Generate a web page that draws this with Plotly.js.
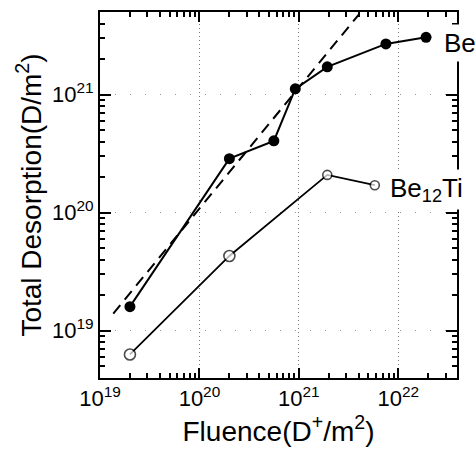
<!DOCTYPE html>
<html>
<head>
<meta charset="utf-8">
<script src="https://cdn.plot.ly/plotly-3.0.1.min.js"></script>
<style>html,body{margin:0;padding:0;background:#fff;}#chart{width:476px;height:451px;}</style>
</head>
<body>
<div id="chart"></div>
<script>
// Be (filled circles)
const fluenceBe = [2e19, 2e20, 5.6e20, 9.2e20, 1.93e21, 7.5e21, 1.9e22];
const desorptionBe = [1.6e19, 2.87e20, 4.06e20, 1.12e21, 1.72e21, 2.69e21, 3.06e21];
// Be12Ti (open circles)
const fluenceBe12Ti = [2e19, 2e20, 1.93e21, 5.8e21];
const desorptionBe12Ti = [6.3e18, 4.3e19, 2.09e20, 1.71e20];
// dashed fit line endpoints
const fitFluence = [1.36e19, 4.0e21];
const fitDesorption = [1.4e19, 4.77e21];
// tick labels
const xTickVals = [1e19, 1e20, 1e21, 1e22];
const xTickText = ["10<sup>19</sup>", "10<sup>20</sup>", "10<sup>21</sup>", "10<sup>22</sup>"];
const yTickVals = [1e19, 1e20, 1e21];
const yTickText = ["10<sup>19</sup>", "10<sup>20</sup>", "10<sup>21</sup>"];
// labels
const seriesLabels = ["Be", "Be<sub>12</sub>Ti"];
const xTitle = "Fluence(D<sup>+</sup>/m<sup>2</sup>)";
const yTitle = "Total Desorption(D/m<sup>2</sup>)";

const font = "Liberation Sans, Arial, sans-serif";
const xRange = [19, 22.59];
const yRange = [18.6, 21.7];

function minorVals(e0, e1) {
  const v = [];
  for (let e = e0; e <= e1; e++) for (let d = 2; d <= 9; d++) v.push(d * Math.pow(10, e));
  return v;
}
const xMinor = minorVals(19, 22);
const yMinor = minorVals(18, 21);

const traces = [
  {x: fitFluence, y: fitDesorption, mode: "lines", line: {color: "black", width: 2, dash: "11px,7px"}},
  {x: fluenceBe, y: desorptionBe, mode: "lines+markers", line: {color: "black", width: 2},
   marker: {symbol: "circle", size: 11, color: "black"}},
  {x: fluenceBe12Ti, y: desorptionBe12Ti, mode: "lines+markers", line: {color: "black", width: 1.8},
   marker: {symbol: "circle", size: [11, 11, 9, 9], color: "white", line: {color: "black", width: 1.6}}},
  {x: [1e20], y: [1e20], xaxis: "x2", yaxis: "y", mode: "markers", marker: {opacity: 0}},
  {x: [1e20], y: [1e20], xaxis: "x", yaxis: "y2", mode: "markers", marker: {opacity: 0}}
];

const layout = {
  width: 476, height: 451,
  margin: {l: 100, r: 19, t: 12, b: 73},
  showlegend: false,
  xaxis: {type: "log", range: xRange, tickmode: "array", tickvals: xTickVals, ticktext: xTickText,
    ticks: "inside", ticklen: 10, tickwidth: 2, tickcolor: "black",
    showline: true, linecolor: "black", linewidth: 2, mirror: "ticks", showgrid: false,
    minor: {tickmode: "array", tickvals: xMinor, ticks: "inside", ticklen: 5, tickwidth: 1.5, tickcolor: "black", showgrid: false},
    tickfont: {family: font, size: 22, color: "black"},
    title: {text: xTitle, font: {family: font, size: 28, color: "black"}, standoff: 4}},
  yaxis: {type: "log", range: yRange, tickmode: "array", tickvals: yTickVals, ticktext: yTickText,
    ticks: "inside", ticklen: 11, tickwidth: 2, tickcolor: "black",
    showline: true, linecolor: "black", linewidth: 2, mirror: "ticks", showgrid: false,
    minor: {tickmode: "array", tickvals: yMinor, ticks: "inside", ticklen: 5, tickwidth: 1.5, tickcolor: "black", showgrid: false},
    tickfont: {family: font, size: 22, color: "black"},
    title: {text: yTitle, font: {family: font, size: 28, color: "black"}, standoff: 2}},
  xaxis2: {type: "log", range: xRange, overlaying: "x", anchor: "y", side: "bottom",
    tickmode: "array", tickvals: xTickVals, ticks: "", showticklabels: false, showline: false, zeroline: false,
    showgrid: true, gridcolor: "#777", gridwidth: 1, griddash: "1px,3px"},
  yaxis2: {type: "log", range: yRange, overlaying: "y", anchor: "x", side: "left",
    tickmode: "array", tickvals: yTickVals, ticks: "", showticklabels: false, showline: false, zeroline: false,
    showgrid: true, gridcolor: "#999", gridwidth: 1, griddash: "1px,14px"},
  annotations: [
    {x: 22.42, y: 21.44, text: seriesLabels[0], showarrow: false, xanchor: "left", yanchor: "middle",
     bgcolor: "white", borderpad: 3, font: {family: font, size: 26, color: "black"}},
    {x: 21.875, y: 20.20, text: seriesLabels[1], showarrow: false, xanchor: "left", yanchor: "middle",
     bgcolor: "white", borderpad: 3, font: {family: font, size: 26, color: "black"}}
  ]
};

Plotly.newPlot("chart", traces, layout, {displayModeBar: false});
</script>
</body>
</html>
